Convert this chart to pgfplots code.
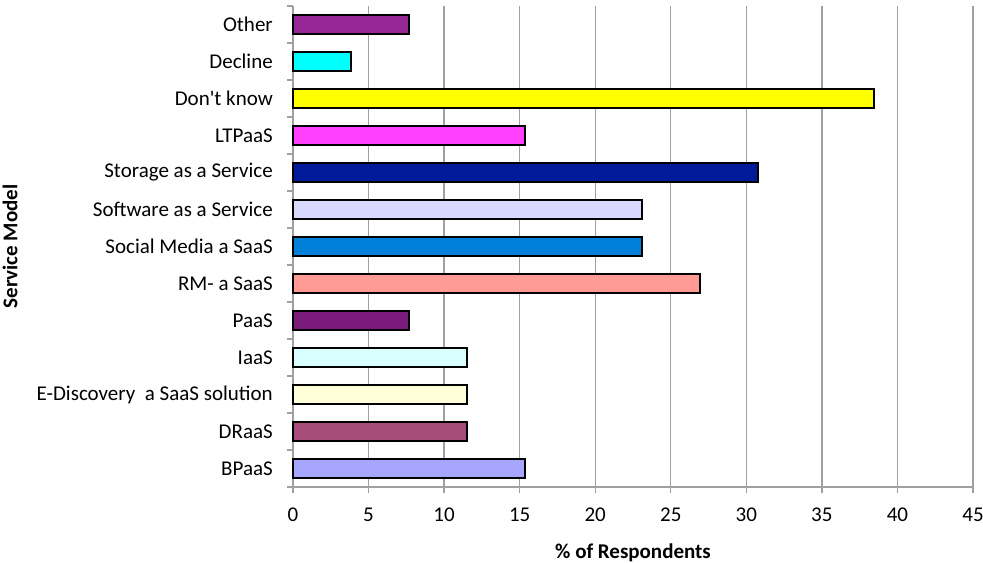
\documentclass[border=0pt]{standalone}
\usepackage{pgfplots}
\pgfplotsset{compat=1.18}
\usepackage{fontspec}
\setmainfont{Carlito}
\definecolor{cBP}{HTML}{A6A6FF}
\definecolor{cDR}{HTML}{A64D79}
\definecolor{cED}{HTML}{FFFFD9}
\definecolor{cIA}{HTML}{D9FFFF}
\definecolor{cPA}{HTML}{7A1A7A}
\definecolor{cRM}{HTML}{FF9A94}
\definecolor{cSM}{HTML}{0080D9}
\definecolor{cSW}{HTML}{D9D9FF}
\definecolor{cST}{HTML}{001A99}
\definecolor{cLT}{HTML}{FF40FF}
\definecolor{cDK}{HTML}{FFFF00}
\definecolor{cDC}{HTML}{00FFFF}
\definecolor{cOT}{HTML}{962696}
\definecolor{gridgray}{HTML}{A0A0A0}
\begin{document}
\fontsize{21bp}{25bp}\selectfont
\begin{tikzpicture}
\begin{axis}[
  name=ax,
  scale only axis, width=680bp, height=481bp,
  xmin=0, xmax=45, xtick={0,5,...,45},
  ymin=-0.5, ymax=12.5,
  ytick={0,...,12},
  yticklabels={BPaaS, DRaaS, {E-Discovery\ \ a SaaS solution}, IaaS, PaaS, {RM- a SaaS\ }, {Social Media a SaaS}, {Software as a Service}, {Storage as a Service}, LTPaaS, {Don\textquotesingle t know}, Decline, Other},
  minor ytick={-0.5,0.5,...,12.5},
  major y tick style={draw=none},
  major tick length=6bp, minor tick length=6bp,
  tick align=outside,
  axis x line*=bottom, axis y line*=left,
  axis line style={gridgray, line width=1.3bp},
  every tick/.style={gridgray, line width=1.3bp},
  xmajorgrids, grid style={gridgray, line width=1.3bp},
  /pgf/number format/assume math mode=true,
  ticklabel style={font=\fontsize{21bp}{25bp}\selectfont},
  yticklabel style={xshift=-7bp},
  xticklabel style={yshift=-8bp},
  xlabel={\bfseries\% of Respondents},
  ylabel={\bfseries Service Model},
  xlabel shift=8bp,
  ylabel shift=5bp,
  label style={font=\fontsize{21bp}{25bp}\selectfont},
  xbar, bar width=0.49, bar shift=0pt,
  every axis plot/.append style={draw=black, line width=2bp},
  clip=false,
]
\addplot[fill=cBP] coordinates {(15.38,0)};
\addplot[fill=cDR] coordinates {(11.54,1)};
\addplot[fill=cED] coordinates {(11.54,2)};
\addplot[fill=cIA] coordinates {(11.54,3)};
\addplot[fill=cPA] coordinates {(7.69,4)};
\addplot[fill=cRM] coordinates {(26.92,5)};
\addplot[fill=cSM] coordinates {(23.08,6)};
\addplot[fill=cSW] coordinates {(23.08,7)};
\addplot[fill=cST] coordinates {(30.77,8)};
\addplot[fill=cLT] coordinates {(15.38,9)};
\addplot[fill=cDK] coordinates {(38.46,10)};
\addplot[fill=cDC] coordinates {(3.85,11)};
\addplot[fill=cOT] coordinates {(7.69,12)};
\end{axis}
\pgfresetboundingbox
\path[use as bounding box] ([xshift=-293bp,yshift=-76bp]ax.south west) rectangle ([xshift=10bp,yshift=6bp]ax.north east);
\end{tikzpicture}
\end{document}
